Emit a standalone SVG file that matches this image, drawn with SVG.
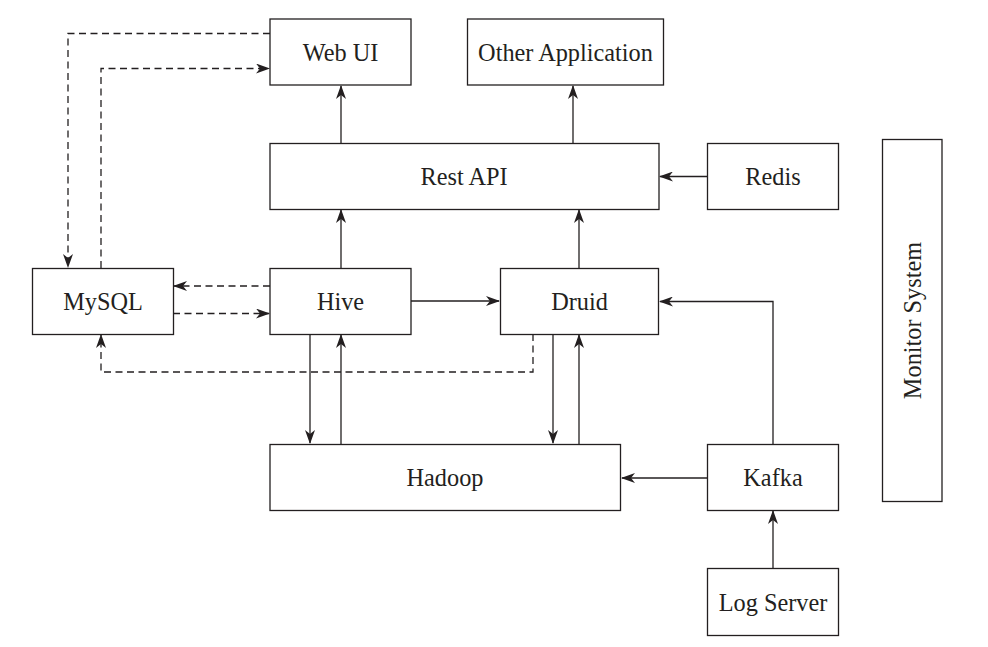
<svg xmlns="http://www.w3.org/2000/svg" width="988" height="647" viewBox="0 0 988 647">
<defs>
<style>
.box{fill:#fff;stroke:#231f20;stroke-width:1.3}
.lbl{font-family:"Liberation Serif","Times New Roman",serif;font-size:24.3px;fill:#231f20;text-anchor:middle}
.ln{fill:none;stroke:#231f20;stroke-width:1.3}
.dash{stroke-dasharray:7,4.5}
</style>
<marker id="ah" viewBox="0 0 14 10" refX="13" refY="5" markerWidth="14" markerHeight="10" markerUnits="userSpaceOnUse" orient="auto">
<path d="M0,0 L14,5 L0,10 L4,5 z" fill="#231f20"/>
</marker>
</defs>
<rect width="988" height="647" fill="#fff"/>
<g id="connectors">
<line class="ln" x1="341" y1="143" x2="341" y2="86" marker-end="url(#ah)"/>
<line class="ln" x1="573" y1="143" x2="573" y2="86" marker-end="url(#ah)"/>
<line class="ln" x1="707" y1="176.5" x2="660" y2="176.5" marker-end="url(#ah)"/>
<line class="ln" x1="341" y1="268" x2="341" y2="210" marker-end="url(#ah)"/>
<line class="ln" x1="579" y1="268" x2="579" y2="210" marker-end="url(#ah)"/>
<line class="ln" x1="411" y1="301" x2="499" y2="301" marker-end="url(#ah)"/>
<polyline class="ln" points="773,444 773,301.5 660,301.5" marker-end="url(#ah)"/>
<line class="ln" x1="310" y1="334" x2="310" y2="443" marker-end="url(#ah)"/>
<line class="ln" x1="341" y1="444" x2="341" y2="335" marker-end="url(#ah)"/>
<line class="ln" x1="553" y1="334" x2="553" y2="443" marker-end="url(#ah)"/>
<line class="ln" x1="579" y1="444" x2="579" y2="335" marker-end="url(#ah)"/>
<line class="ln" x1="707" y1="478" x2="622" y2="478" marker-end="url(#ah)"/>
<line class="ln" x1="773" y1="568" x2="773" y2="511" marker-end="url(#ah)"/>
<polyline class="ln dash" points="270,33.5 68,33.5 68,267" marker-end="url(#ah)"/>
<polyline class="ln dash" points="101,268 101,68.5 269,68.5" marker-end="url(#ah)"/>
<line class="ln dash" x1="270" y1="286" x2="174" y2="286" marker-end="url(#ah)"/>
<line class="ln dash" x1="173" y1="313.5" x2="269" y2="313.5" marker-end="url(#ah)"/>
<polyline class="ln dash" points="533,334 533,372 101,372 101,335" marker-end="url(#ah)"/>
</g>
<g id="webui"><rect class="box" x="270" y="19" width="141" height="66"/><text class="lbl" x="340.5" y="60.5">Web UI</text></g>
<g id="otherapp"><rect class="box" x="467.5" y="19" width="196" height="66"/><text class="lbl" x="565.5" y="60.5">Other Application</text></g>
<g id="restapi"><rect class="box" x="270" y="143.5" width="389" height="66"/><text class="lbl" x="464" y="184.5">Rest API</text></g>
<g id="redis"><rect class="box" x="707.5" y="143.5" width="131" height="66"/><text class="lbl" x="773" y="184.5">Redis</text></g>
<g id="mysql"><rect class="box" x="32.5" y="268.5" width="141" height="66"/><text class="lbl" x="103" y="309.5">MySQL</text></g>
<g id="hive"><rect class="box" x="270" y="268.5" width="141" height="66"/><text class="lbl" x="340.5" y="309.5">Hive</text></g>
<g id="druid"><rect class="box" x="500.5" y="268.5" width="158" height="66"/><text class="lbl" x="579.5" y="309.5">Druid</text></g>
<g id="hadoop"><rect class="box" x="270" y="444.5" width="350.5" height="66"/><text class="lbl" x="445" y="485.5">Hadoop</text></g>
<g id="kafka"><rect class="box" x="707.5" y="444.5" width="131" height="66"/><text class="lbl" x="773" y="485.5">Kafka</text></g>
<g id="logserver"><rect class="box" x="707.5" y="568.5" width="131" height="67"/><text class="lbl" x="773" y="610.5">Log Server</text></g>
<g id="monitor"><rect class="box" x="882.5" y="139.5" width="59.5" height="362"/><text class="lbl" transform="translate(920.5,320.5) rotate(-90)" x="0" y="0">Monitor System</text></g>
</svg>
